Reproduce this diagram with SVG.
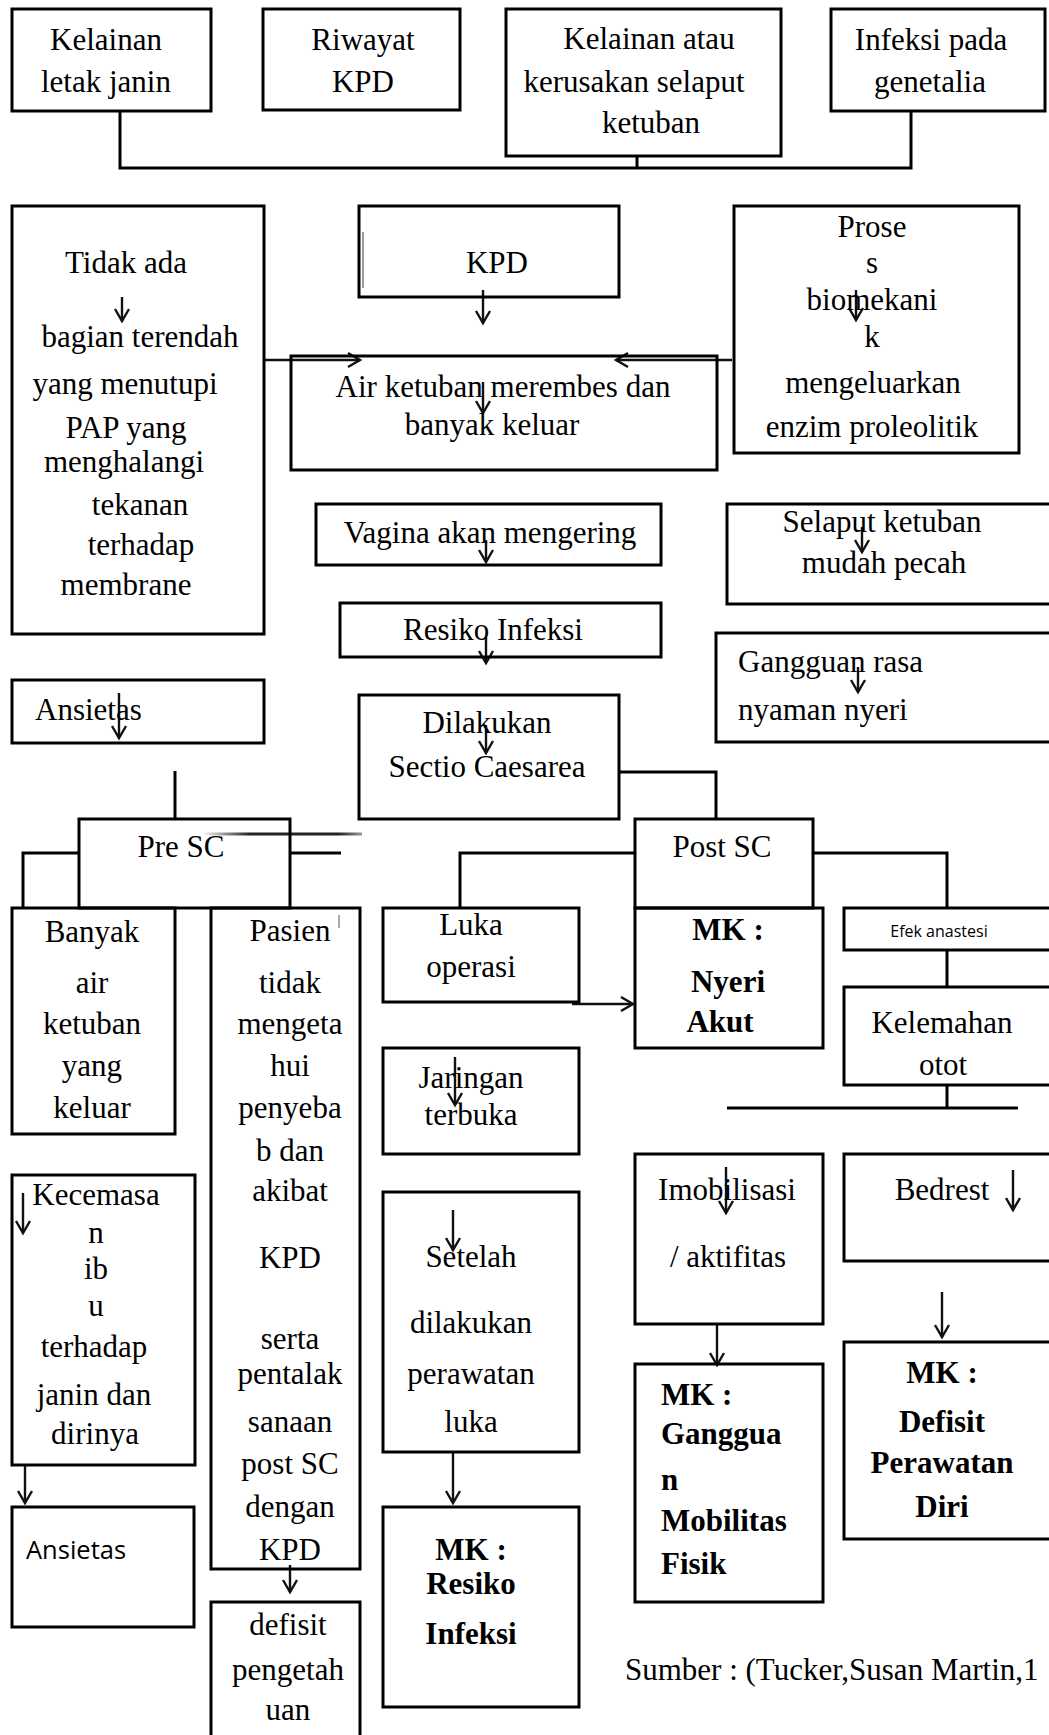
<svg xmlns="http://www.w3.org/2000/svg" width="1049" height="1735" viewBox="0 0 1049 1735">
<style>
.bx{fill:none;stroke:#000;stroke-width:3}
.ln{fill:none;stroke:#000;stroke-width:3}
.ar{fill:none;stroke:#111;stroke-width:2.4;marker-end:url(#ah)}
.t{font-family:"Liberation Serif","Times New Roman",serif;font-size:31px;fill:#000;text-anchor:middle}
.tl{font-family:"Liberation Serif","Times New Roman",serif;font-size:31px;fill:#000}
.tb{font-family:"Liberation Serif","Times New Roman",serif;font-size:31px;font-weight:bold;fill:#000;text-anchor:middle}
.tbl{font-family:"Liberation Serif","Times New Roman",serif;font-size:31px;font-weight:bold;fill:#000}
.s{font-family:"Open Sans","Liberation Sans",sans-serif;fill:#000}
</style>
<defs>
<marker id="ah" markerWidth="18" markerHeight="18" refX="14" refY="9" orient="auto" markerUnits="userSpaceOnUse">
<path d="M2,2 L14,9 L2,16" fill="none" stroke="#111" stroke-width="2.4"/>
</marker>
<linearGradient id="gl" x1="202" y1="0" x2="362" y2="0" gradientUnits="userSpaceOnUse">
<stop offset="0" stop-color="#fff"/>
<stop offset="0.3" stop-color="#222"/>
<stop offset="0.85" stop-color="#222"/>
<stop offset="1" stop-color="#999"/>
</linearGradient>
</defs>
<rect width="1049" height="1735" fill="#fff"/>

<g id="connectors">
<path class="ln" d="M120,111 V168 H911 V111 M637,156 V168"/>
<path class="ln" d="M619,772 H716 V819"/>
<path class="ln" d="M175,771 V819"/>
<path class="ln" d="M79,853 H23 V908"/>
<path class="ln" d="M290,853 H341"/>
<path d="M202,834 H362" stroke="url(#gl)" stroke-width="3" fill="none"/>
<path class="ln" d="M635,853 H460 V908"/>
<path class="ln" d="M813,853 H947 V908"/>
<path class="ln" d="M947,950 V987"/>
<path class="ln" d="M947,1085 V1108"/>
<path class="ln" d="M727,1108 H1018"/>
<path class="ar" d="M264,360 H360"/>
<path class="ar" d="M732,360 H616"/>
<path class="ar" d="M572,1004 H633"/>
<path class="ar" d="M122,297 V321"/>
<path class="ar" d="M483,290 V323"/>
<path class="ar" d="M483,382 V413"/>
<path class="ar" d="M856,290 V320"/>
<path class="ar" d="M486,540 V562"/>
<path class="ar" d="M862,527 V552"/>
<path class="ar" d="M486,637 V663"/>
<path class="ar" d="M858,667 V692"/>
<path class="ar" d="M119,693 V738"/>
<path class="ar" d="M486,725 V753"/>
<path class="ar" d="M455,1057 V1105"/>
<path class="ar" d="M23,1193 V1233"/>
<path class="ar" d="M453,1210 V1250"/>
<path class="ar" d="M726,1167 V1213"/>
<path class="ar" d="M1013,1170 V1210"/>
<path class="ar" d="M717,1324 V1365"/>
<path class="ar" d="M942,1292 V1337"/>
<path class="ar" d="M25,1465 V1503"/>
<path class="ar" d="M453,1452 V1503"/>
<path class="ar" d="M290,1565 V1592"/>
</g>

<g id="n-kelainan-letak">
<rect class="bx" x="12" y="9" width="199" height="102"/>
<text class="t" x="106" y="50">Kelainan</text>
<text class="t" x="106" y="92">letak janin</text>
</g>
<g id="n-riwayat">
<rect class="bx" x="263" y="9" width="197" height="101"/>
<text class="t" x="363" y="50">Riwayat</text>
<text class="t" x="363" y="92">KPD</text>
</g>
<g id="n-kelainan-selaput">
<rect class="bx" x="506" y="9" width="275" height="147"/>
<text class="t" x="649" y="49">Kelainan atau</text>
<text class="t" x="634" y="92">kerusakan selaput</text>
<text class="t" x="651" y="133">ketuban</text>
</g>
<g id="n-infeksi">
<rect class="bx" x="831" y="9" width="214" height="102"/>
<text class="t" x="931" y="50">Infeksi pada</text>
<text class="t" x="930" y="92">genetalia</text>
</g>

<g id="n-tidak-ada">
<rect class="bx" x="12" y="206" width="252" height="428"/>
<text class="t" x="126" y="273">Tidak ada</text>
<text class="t" x="140" y="347">bagian terendah</text>
<text class="t" x="125" y="394">yang menutupi</text>
<text class="t" x="126" y="438">PAP yang</text>
<text class="t" x="124" y="472">menghalangi</text>
<text class="t" x="140" y="515">tekanan</text>
<text class="t" x="141" y="555">terhadap</text>
<text class="t" x="126" y="595">membrane</text>
</g>
<g id="n-kpd">
<rect class="bx" x="359" y="206" width="260" height="91"/>
<line x1="363" y1="232" x2="363" y2="288" stroke="#777" stroke-width="1.5"/>
<text class="t" x="497" y="273">KPD</text>
</g>
<g id="n-air">
<rect class="bx" x="291" y="356" width="426" height="114"/>
<text class="t" x="503" y="397">Air ketuban merembes dan</text>
<text class="t" x="492" y="435">banyak keluar</text>
</g>
<g id="n-proses">
<rect class="bx" x="734" y="206" width="285" height="247"/>
<text class="t" x="872" y="237">Prose</text>
<text class="t" x="872" y="273">s</text>
<text class="t" x="872" y="310">biomekani</text>
<text class="t" x="872" y="347">k</text>
<text class="t" x="873" y="393">mengeluarkan</text>
<text class="t" x="872" y="437">enzim proleolitik</text>
</g>
<g id="n-vagina">
<rect class="bx" x="316" y="504" width="345" height="61"/>
<text class="t" x="490" y="543">Vagina akan mengering</text>
</g>
<g id="n-selaput">
<rect class="bx" x="727" y="504" width="330" height="100"/>
<text class="t" x="882" y="532">Selaput ketuban</text>
<text class="t" x="884" y="573">mudah pecah</text>
</g>
<g id="n-resiko">
<rect class="bx" x="340" y="603" width="321" height="54"/>
<text class="t" x="493" y="640">Resiko Infeksi</text>
</g>
<g id="n-gangguan-nyeri">
<rect class="bx" x="716" y="633" width="340" height="109"/>
<text class="tl" x="738" y="672">Gangguan rasa</text>
<text class="tl" x="738" y="720">nyaman nyeri</text>
</g>
<g id="n-ansietas1">
<rect class="bx" x="12" y="680" width="252" height="63"/>
<text class="tl" x="35" y="720">Ansietas</text>
</g>
<g id="n-sc">
<rect class="bx" x="359" y="695" width="260" height="124"/>
<text class="t" x="487" y="733">Dilakukan</text>
<text class="t" x="487" y="777">Sectio Caesarea</text>
</g>
<g id="n-pre-sc">
<rect class="bx" x="79" y="819" width="211" height="89"/>
<text class="t" x="181" y="857">Pre SC</text>
</g>
<g id="n-post-sc">
<rect class="bx" x="635" y="819" width="178" height="89"/>
<text class="t" x="722" y="857">Post SC</text>
</g>
<g id="n-banyak">
<rect class="bx" x="12" y="908" width="163" height="226"/>
<text class="t" x="92" y="942">Banyak</text>
<text class="t" x="92" y="993">air</text>
<text class="t" x="92" y="1034">ketuban</text>
<text class="t" x="92" y="1076">yang</text>
<text class="t" x="92" y="1118">keluar</text>
</g>
<g id="n-pasien">
<rect class="bx" x="211" y="908" width="149" height="661"/>
<line x1="339" y1="915" x2="339" y2="928" stroke="#aaa" stroke-width="2"/>
<text class="t" x="290" y="941">Pasien</text>
<text class="t" x="290" y="993">tidak</text>
<text class="t" x="290" y="1034">mengeta</text>
<text class="t" x="290" y="1076">hui</text>
<text class="t" x="290" y="1118">penyeba</text>
<text class="t" x="290" y="1161">b dan</text>
<text class="t" x="290" y="1201">akibat</text>
<text class="t" x="290" y="1268">KPD</text>
<text class="t" x="290" y="1349">serta</text>
<text class="t" x="290" y="1384">pentalak</text>
<text class="t" x="290" y="1432">sanaan</text>
<text class="t" x="290" y="1474">post SC</text>
<text class="t" x="290" y="1517">dengan</text>
<text class="t" x="290" y="1560">KPD</text>
</g>
<g id="n-defisit-pengetahuan">
<rect class="bx" x="211" y="1602" width="149" height="140"/>
<text class="t" x="288" y="1635">defisit</text>
<text class="t" x="288" y="1680">pengetah</text>
<text class="t" x="288" y="1720">uan</text>
</g>
<g id="n-luka">
<rect class="bx" x="383" y="908" width="196" height="94"/>
<text class="t" x="471" y="935">Luka</text>
<text class="t" x="471" y="977">operasi</text>
</g>
<g id="n-mk-nyeri">
<rect class="bx" x="635" y="908" width="188" height="140"/>
<text class="tb" x="728" y="940">MK :</text>
<text class="tb" x="728" y="992">Nyeri</text>
<text class="tb" x="720" y="1032">Akut</text>
</g>
<g id="n-efek">
<rect class="bx" x="844" y="908" width="212" height="42"/>
<text class="s" x="939" y="937" font-size="16" text-anchor="middle">Efek anastesi</text>
</g>
<g id="n-kelemahan">
<rect class="bx" x="844" y="987" width="212" height="98"/>
<text class="t" x="942" y="1033">Kelemahan</text>
<text class="t" x="943" y="1075">otot</text>
</g>
<g id="n-jaringan">
<rect class="bx" x="383" y="1048" width="196" height="106"/>
<text class="t" x="471" y="1088">Jaringan</text>
<text class="t" x="471" y="1125">terbuka</text>
</g>
<g id="n-kecemasan">
<rect class="bx" x="12" y="1175" width="183" height="290"/>
<text class="t" x="96" y="1205">Kecemasa</text>
<text class="t" x="96" y="1243">n</text>
<text class="t" x="96" y="1279">ib</text>
<text class="t" x="96" y="1316">u</text>
<text class="t" x="94" y="1357">terhadap</text>
<text class="t" x="94" y="1405">janin dan</text>
<text class="t" x="95" y="1444">dirinya</text>
</g>
<g id="n-setelah">
<rect class="bx" x="383" y="1192" width="196" height="260"/>
<text class="t" x="471" y="1267">Setelah</text>
<text class="t" x="471" y="1333">dilakukan</text>
<text class="t" x="471" y="1384">perawatan</text>
<text class="t" x="471" y="1432">luka</text>
</g>
<g id="n-imobilisasi">
<rect class="bx" x="635" y="1154" width="188" height="170"/>
<text class="t" x="727" y="1200">Imobilisasi</text>
<text class="t" x="728" y="1267">/ aktifitas</text>
</g>
<g id="n-bedrest">
<rect class="bx" x="844" y="1154" width="212" height="107"/>
<text class="t" x="942" y="1200">Bedrest</text>
</g>
<g id="n-mk-gangguan">
<rect class="bx" x="635" y="1364" width="188" height="238"/>
<text class="tbl" x="661" y="1405">MK :</text>
<text class="tbl" x="661" y="1444">Ganggua</text>
<text class="tbl" x="661" y="1490">n</text>
<text class="tbl" x="661" y="1531">Mobilitas</text>
<text class="tbl" x="661" y="1574">Fisik</text>
</g>
<g id="n-mk-defisit">
<rect class="bx" x="844" y="1342" width="212" height="197"/>
<text class="tb" x="942" y="1383">MK :</text>
<text class="tb" x="942" y="1432">Defisit</text>
<text class="tb" x="942" y="1473">Perawatan</text>
<text class="tb" x="942" y="1517">Diri</text>
</g>
<g id="n-ansietas2">
<rect class="bx" x="12" y="1507" width="182" height="120"/>
<text class="s" x="26" y="1559" font-size="25.5">Ansietas</text>
</g>
<g id="n-mk-resiko">
<rect class="bx" x="383" y="1507" width="196" height="200"/>
<text class="tb" x="471" y="1560">MK :</text>
<text class="tb" x="471" y="1594">Resiko</text>
<text class="tb" x="471" y="1644">Infeksi</text>
</g>
<g id="sumber">
<text class="tl" x="625" y="1680">Sumber : (Tucker,Susan Martin,1</text>
</g>
</svg>
